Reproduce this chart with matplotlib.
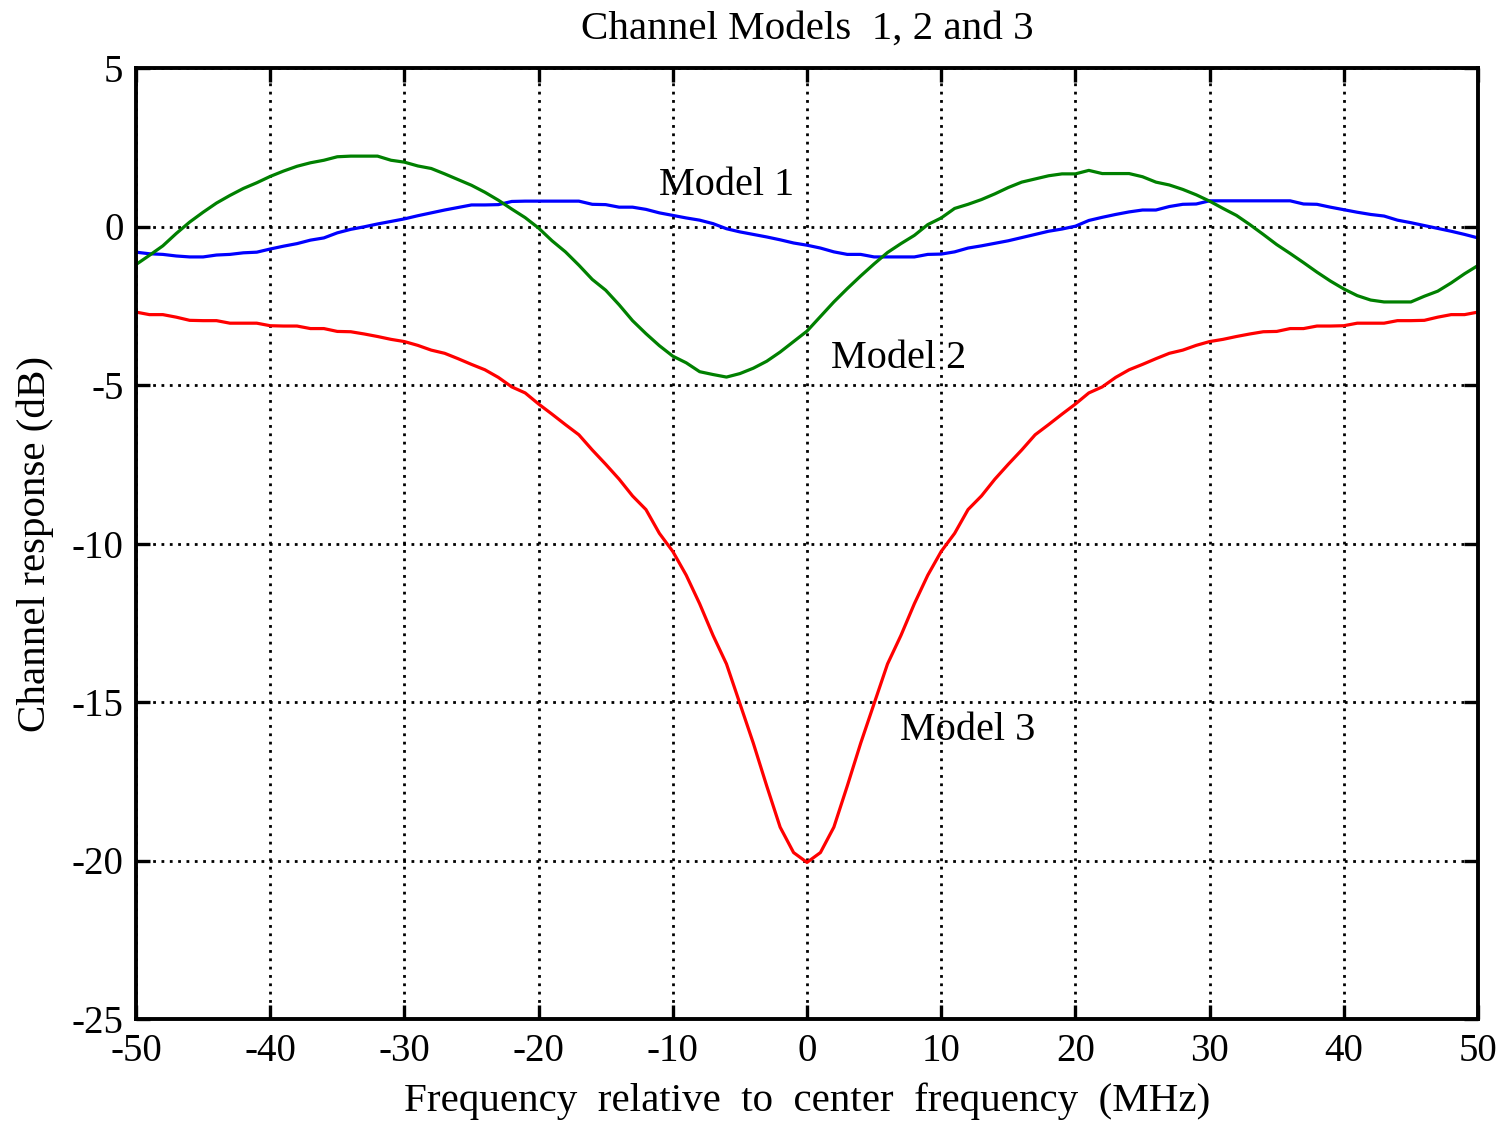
import numpy as np
import matplotlib
matplotlib.use("Agg")
import matplotlib.pyplot as plt

freq = list(range(-50, 51))

model1 = [-0.81, -0.86, -0.88, -0.93, -0.96, -0.96, -0.90, -0.88, -0.83, -0.81,
          -0.71, -0.62, -0.54, -0.43, -0.36, -0.20, -0.09, -0.01, 0.08, 0.16,
          0.24, 0.34, 0.43, 0.52, 0.60, 0.68, 0.68, 0.69, 0.79, 0.80,
          0.80, 0.80, 0.80, 0.80, 0.70, 0.69, 0.61, 0.61, 0.54, 0.43,
          0.35, 0.27, 0.20, 0.09, -0.07, -0.17, -0.25, -0.33, -0.42, -0.52,
          -0.59,
          -0.68, -0.80, -0.88, -0.88, -0.96, -0.96, -0.96, -0.96, -0.88, -0.87,
          -0.80, -0.68, -0.61, -0.53, -0.45, -0.35, -0.25, -0.15, -0.08, 0.01,
          0.19, 0.29, 0.38, 0.46, 0.52, 0.52, 0.63, 0.70, 0.71, 0.81,
          0.81, 0.81, 0.81, 0.81, 0.81, 0.81, 0.71, 0.70, 0.61, 0.53,
          0.45, 0.38, 0.33, 0.20, 0.12, 0.03, -0.06, -0.15, -0.25, -0.36]

model2 = [-1.20, -0.91, -0.61, -0.22, 0.14, 0.45, 0.74, 0.98, 1.20, 1.38,
          1.58, 1.75, 1.90, 2.01, 2.09, 2.20, 2.22, 2.22, 2.22, 2.09,
          2.03, 1.91, 1.83, 1.66, 1.48, 1.30, 1.08, 0.83, 0.55, 0.28,
          -0.05, -0.45, -0.80, -1.22, -1.67, -2.01, -2.47, -2.97, -3.38, -3.76,
          -4.09, -4.30, -4.58, -4.67, -4.75, -4.64, -4.47, -4.25, -3.96, -3.63,
          -3.30,
          -2.84, -2.38, -1.96, -1.56, -1.18, -0.82, -0.54, -0.28, 0.06, 0.27,
          0.57, 0.70, 0.85, 1.03, 1.23, 1.40, 1.50, 1.60, 1.66, 1.66,
          1.77, 1.67, 1.67, 1.67, 1.57, 1.40, 1.31, 1.17, 1.00, 0.80,
          0.57, 0.35, 0.06, -0.25, -0.57, -0.85, -1.14, -1.44, -1.72, -1.97,
          -2.18, -2.32, -2.38, -2.38, -2.38, -2.20, -2.04, -1.78, -1.49, -1.23]

model3 = [-2.70, -2.78, -2.78, -2.86, -2.96, -2.97, -2.97, -3.05, -3.05, -3.05,
          -3.13, -3.14, -3.14, -3.22, -3.22, -3.31, -3.32, -3.39, -3.47, -3.56,
          -3.63, -3.75, -3.90, -4.00, -4.17, -4.35, -4.52, -4.76, -5.06, -5.25,
          -5.60, -5.92, -6.25, -6.57, -7.05, -7.50, -7.97, -8.50, -8.93, -9.68,
          -10.25, -11.00, -11.90, -12.90, -13.80, -15.05, -16.30, -17.65, -18.95, -19.75,
          -20.06,
          -19.75, -18.95, -17.65, -16.30, -15.05, -13.80, -12.90, -11.90, -11.00, -10.25,
          -9.68, -8.93, -8.50, -7.97, -7.50, -7.05, -6.57, -6.25, -5.92, -5.60,
          -5.25, -5.06, -4.76, -4.52, -4.35, -4.17, -4.00, -3.90, -3.75, -3.63,
          -3.56, -3.47, -3.39, -3.32, -3.31, -3.22, -3.22, -3.14, -3.14, -3.13,
          -3.05, -3.05, -3.05, -2.97, -2.97, -2.96, -2.86, -2.78, -2.78, -2.70]

xticks = list(range(-50, 51, 10))
yticks = list(range(-25, 6, 5))
labels = ["Model 1", "Model 2", "Model 3"]
label_pos = [(-6.0, 1.3), (6.8, -4.15), (12.0, -15.9)]

plt.rcParams['font.family'] = ['Liberation Serif', 'DejaVu Serif']
FS = 28

fig = plt.figure(figsize=(15.07, 11.21), dpi=100)
ax = fig.add_axes([136/1507, 1 - 1019/1121, (1478-136)/1507, (1019-68)/1121])

ax.plot(freq, model1, color=(0, 0, 1), lw=2.3)
ax.plot(freq, model2, color=(0, 0.5, 0), lw=2.3)
ax.plot(freq, model3, color=(1, 0, 0), lw=2.3)

for lab, (lx, ly) in zip(labels, label_pos):
    ax.text(lx, ly, lab, fontsize=29, ha='center', va='center', color='black')

ax.set_xlim(-50, 50)
ax.set_ylim(-25, 5)
ax.set_xticks(xticks)
ax.set_yticks(yticks)
ax.set_xticklabels([str(t) for t in xticks])
ax.set_yticklabels([str(t) for t in yticks])
ax.grid(True, color='black', linestyle=(0, (1, 2.0)), linewidth=2.0)
ax.tick_params(direction='in', length=10, width=2.4, labelsize=FS,
               top=True, right=True)
ax.tick_params(axis='y', pad=9)
ax.tick_params(axis='x', pad=10)
for s in ax.spines.values():
    s.set_linewidth(2.8)

ax.set_title("Channel Models  1, 2 and 3", fontsize=29.5, pad=21)
ax.set_xlabel("Frequency  relative  to  center  frequency  (MHz)", fontsize=29.5, labelpad=9)
ax.set_ylabel("Channel response (dB)", fontsize=29.5, labelpad=13)

fig.savefig("out.png", dpi=100)
